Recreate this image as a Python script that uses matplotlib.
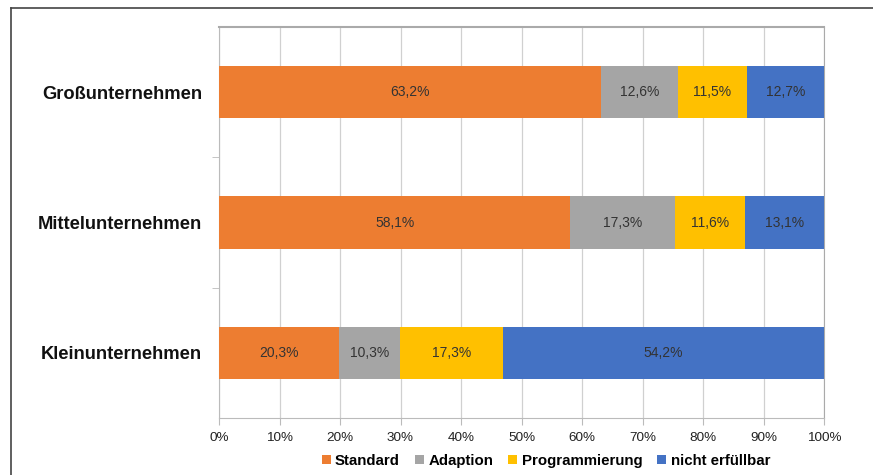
import numpy as np
import matplotlib.pyplot as plt
from matplotlib.lines import Line2D

plt.rcParams['font.family'] = ['Liberation Sans', 'DejaVu Sans']

categories = ["Kleinunternehmen", "Mittelunternehmen", "Großunternehmen"]
series_names = ["Standard", "Adaption", "Programmierung", "nicht erfüllbar"]
standard = [20.3, 58.1, 63.2]
adaption = [10.3, 17.3, 12.6]
programmierung = [17.3, 11.6, 11.5]
nicht_erfuellbar = [54.2, 13.1, 12.7]
colors = ["#ED7D31", "#A5A5A5", "#FFC000", "#4472C4"]

# 100% stacked: each row scaled to its own total
data = np.array([standard, adaption, programmierung, nicht_erfuellbar])
totals = data.sum(axis=0)
shares = data / totals * 100

fig = plt.figure(figsize=(8.73, 4.75), dpi=100)
ax = fig.add_axes([219 / 873, 1 - 418 / 475, (824 - 219) / 873, (418 - 27) / 475])

y = np.arange(len(categories))
left = np.zeros(len(categories))
handles = []
for name, vals, share, col in zip(series_names, data, shares, colors):
    b = ax.barh(y, share, left=left, height=0.4, color=col, label=name, zorder=3)
    handles.append(b)
    for yi, l, w, v in zip(y, left, share, vals):
        ax.text(l + w / 2, yi, f"{v:.1f}%".replace(".", ","), ha="center", va="center",
                fontsize=10, color="#333333", zorder=4)
    left += share

ax.set_xlim(0, 100)
ax.set_ylim(-0.5, 2.5)
ax.set_xticks(np.arange(0, 101, 10))
ax.set_xticklabels([f"{t}%" for t in range(0, 101, 10)], fontsize=9.7, color="#222222")
ax.set_yticks(y)
ax.set_yticklabels(categories, fontsize=13.2, fontweight="bold", color="#111111")
ax.set_yticks([0.5, 1.5], minor=True)
ax.tick_params(axis="y", which="major", length=0, pad=12)
ax.tick_params(axis="y", which="minor", length=5, color="#bbbbbb", direction="out")
ax.tick_params(axis="x", length=5, color="#bbbbbb", direction="out", pad=5)
ax.grid(True, axis="x", color="#d0d0d0", linewidth=0.9, zorder=0)
for s in ["left", "bottom"]:
    ax.spines[s].set_color("#bbbbbb")
ax.spines["top"].set_color("#aaaaaa")
ax.spines["top"].set_linewidth(1.5)
ax.spines["right"].set_color("#aaaaaa")

fig.legend(handles=handles, labels=series_names, loc="center", bbox_to_anchor=(546 / 873, 1 - 461 / 475),
           ncol=4, frameon=False, handlelength=0.6, handleheight=0.6, handletextpad=0.3,
           columnspacing=1.0, prop={"size": 10.8, "weight": "bold"})

# outer frame from the original screenshot
fig.add_artist(Line2D([11 / 873, 1.0], [1 - 8 / 475, 1 - 8 / 475], transform=fig.transFigure, color="#444444", linewidth=1.2))
fig.add_artist(Line2D([11 / 873, 11 / 873], [0, 1 - 8 / 475], transform=fig.transFigure, color="#444444", linewidth=1.2))

fig.savefig("out.png", dpi=100)
